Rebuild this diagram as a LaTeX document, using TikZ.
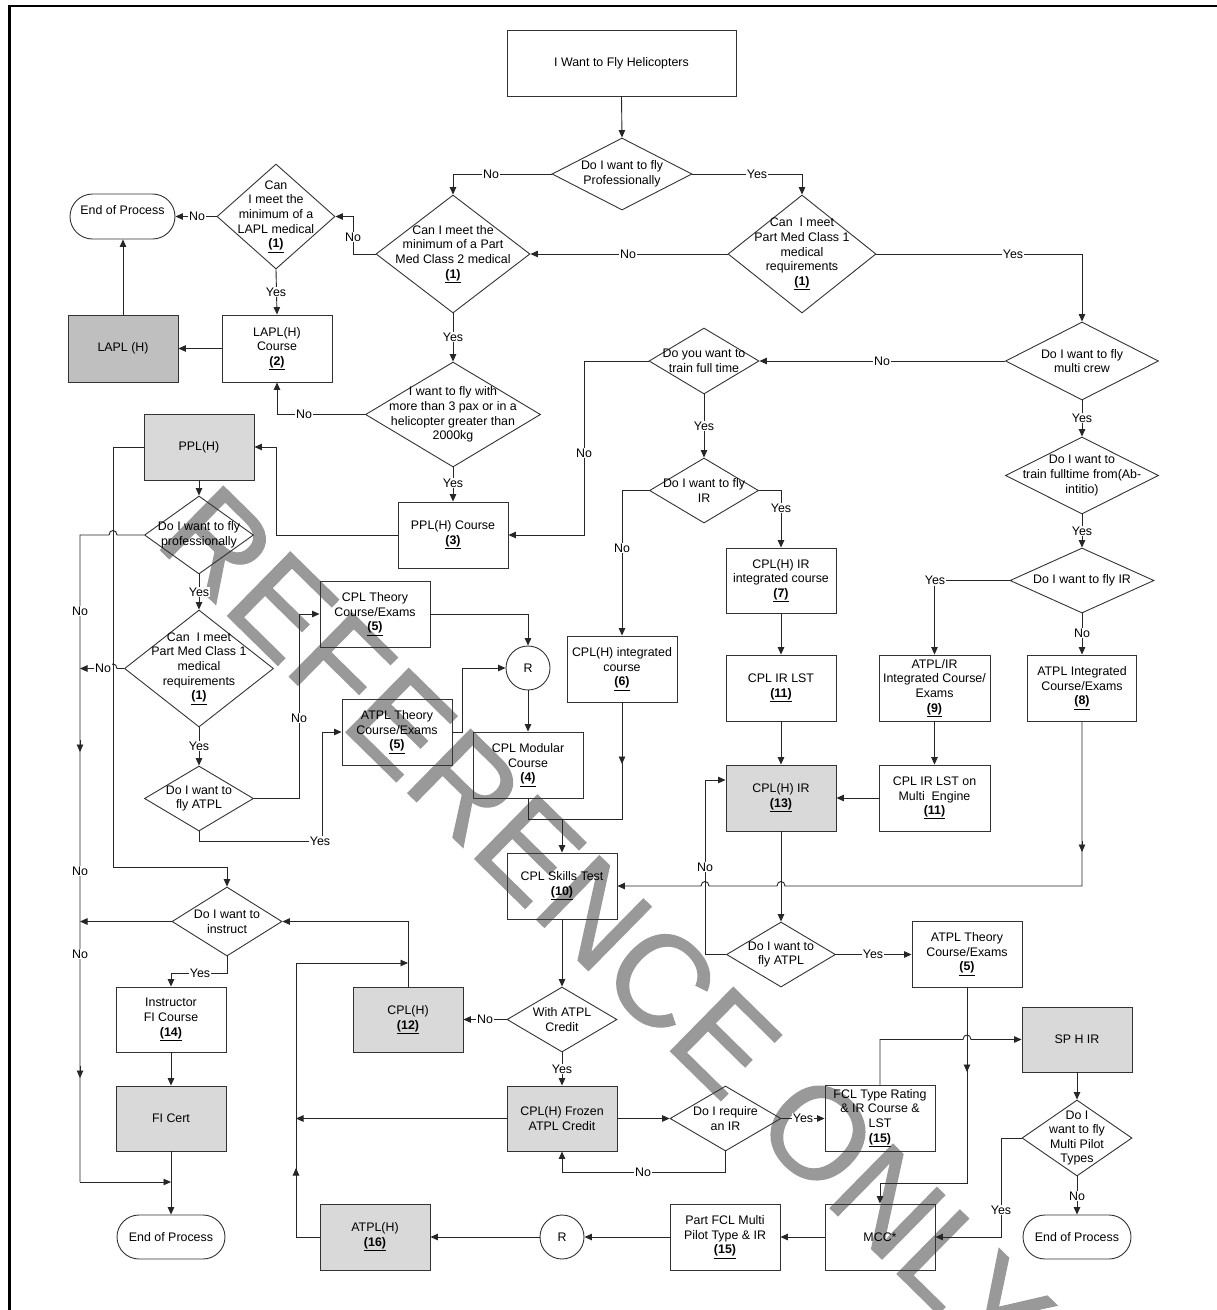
\documentclass[tikz,border=0pt]{standalone}
\usepackage{fontspec}
\setmainfont{Liberation Sans}
\newfontfamily\wmfont[FakeBold=1]{Liberation Sans}
\usetikzlibrary{arrows.meta,shapes.geometric,shapes.misc}
\newcommand{\refnum}[1]{\underline{\textbf{#1}}}
\begin{document}
\begin{tikzpicture}[x=1pt,y=-1pt,
 every node/.style={font=\fontsize{12.4}{14.6}\selectfont},
 ln/.style={draw=black!85, line width=0.9pt},
 arr/.style={ln, -{Triangle[length=7.5pt,width=6.5pt]}},
 box/.style={draw=black!80, line width=0.9pt, rectangle, minimum width=110pt, minimum height=66pt, inner sep=1pt, align=center},
 gbox/.style={box, fill=black!15},
 dbox/.style={box, fill=black!25},
 dia/.style={draw=black!80, line width=0.9pt, diamond, inner sep=0pt},
 txt/.style={align=center, inner sep=0pt},
 term/.style={draw=black!80, line width=0.9pt, rounded rectangle, minimum width=110pt, minimum height=44pt, inner sep=1pt},
 circ/.style={draw=black!80, line width=0.9pt, circle, minimum size=44pt, inner sep=0pt},
 lbl/.style={fill=white, inner sep=0.8pt},
 wm/.style={rotate=-44.5, text=black!40, inner sep=0pt, font=\wmfont\fontsize{130}{130}\selectfont}
]
\useasboundingbox (0,0) rectangle (1217,1310);
\fill[white] (0,0) rectangle (1217,1310);
% watermark
\node[wm] (wm) at (606,925) {REFERENCE ONLY};
% frame
\draw[line width=2.3pt] (1217,6) -- (9.5,6) -- (9.5,1310);

% ---------- nodes ----------
\node[box, minimum width=229pt] (start) at (621.5,63) {I Want to Fly Helicopters};
\node[dia, minimum width=140pt, minimum height=72pt] (dprof) at (622,174) {};
\node[txt] (tprof) at (dprof) {Do I want to fly\\Professionally};
\node[dia, minimum width=154pt, minimum height=118pt] (dmed2) at (453,254) {};
\node[txt] (tmed2) at (dmed2) {Can I meet the\\minimum of a Part\\Med Class 2 medical\\\refnum{(1)}};
\node[dia, minimum width=148pt, minimum height=118pt] (dmed1) at (802,254) {};
\node[txt] (tmed1) at (dmed1) {Can\ \ I meet\\Part Med Class 1\\medical\\requirements\\\refnum{(1)}};
\node[dia, minimum width=118pt, minimum height=105pt] (dlapl) at (276,216.5) {};
\node[txt] (tlapl) at (dlapl) {Can\\I meet the\\minimum of a\\LAPL medical\\\refnum{(1)}};
\node[term, minimum width=107pt, minimum height=45pt] (end1) at (122.5,216.5) {};
\node[txt] (tend1) at (122.5,210) {End of Process};
\node[box, minimum height=67pt] (laplc) at (277,348.5) {LAPL(H)\\Course\\\refnum{(2)}};
\node[dbox, minimum height=67pt] (lapl) at (123,348.5) {LAPL (H)};
\node[dia, minimum width=175pt, minimum height=105pt] (dpax) at (453,414.5) {};
\node[txt] (tpax) at (dpax) {I want to fly with\\more than 3 pax or in a\\helicopter greater than\\2000kg};
\node[box] (pplc) at (453,535) {PPL(H) Course\\\refnum{(3)}};
\node[dia, minimum width=153pt, minimum height=78pt] (dmulti) at (1082,361) {};
\node[txt] (tmulti) at (dmulti) {Do I want to fly\\multi crew};
\node[dia, minimum width=110pt, minimum height=66pt] (dfull) at (704,361) {};
\node[txt] (tfull) at (dfull) {Do you want to\\train full time};
\node[dia, minimum width=109pt, minimum height=65pt] (dir1) at (704,490.5) {};
\node[txt] (tir1) at (dir1) {Do I want to fly\\IR};
\node[box, minimum height=65pt] (cplirint) at (781,580.5) {CPL(H) IR\\integrated course\\\refnum{(7)}};
\node[box] (cplirlst) at (781,688) {CPL IR LST\\\refnum{(11)}};
\node[gbox] (cplir) at (781,798) {CPL(H) IR\\\refnum{(13)}};
\node[box] (cplint) at (622,669) {CPL(H) integrated\\course\\\refnum{(6)}};
\node[dia, minimum width=153pt, minimum height=77pt] (dabinit) at (1082,475.5) {};
\node[txt] (tabinit) at (dabinit) {Do I want to\\train fulltime from(Ab-\\intitio)};
\node[dia, minimum width=144pt, minimum height=65pt] (dir2) at (1082,580.5) {};
\node[txt] (tir2) at (dir2) {Do I want to fly IR};
\node[box, minimum width=111pt] (atplirint) at (934.5,688) {ATPL/IR\\Integrated Course/\\Exams\\\refnum{(9)}};
\node[box, minimum width=109pt] (atplint) at (1082,688) {ATPL Integrated\\Course/Exams\\\refnum{(8)}};
\node[box, minimum width=111pt] (cplirme) at (934.5,798) {CPL IR LST on\\Multi\ \ Engine\\\refnum{(11)}};
\node[gbox] (ppl) at (199,447) {PPL(H)};
\node[dia, minimum width=109pt, minimum height=78pt] (dprof2) at (199,535) {};
\node[txt] (tprof2) at (dprof2) {Do I want to fly\\professionally};
\node[dia, minimum width=149pt, minimum height=117pt] (dmed1b) at (199,668.5) {};
\node[txt] (tmed1b) at (dmed1b) {Can\ \ I meet\\Part Med Class 1\\medical\\requirements\\\refnum{(1)}};
\node[dia, minimum width=109pt, minimum height=65pt] (datpl1) at (199,798.5) {};
\node[txt] (tatpl1) at (datpl1) {Do I want to\\fly ATPL};
\node[box] (cplth) at (375,614) {CPL Theory\\Course/Exams\\\refnum{(5)}};
\node[box] (atplth) at (397,732) {ATPL Theory\\Course/Exams\\\refnum{(5)}};
\node[circ] (R1) at (528,668) {R};
\node[box] (cplmod) at (528,765) {CPL Modular\\Course\\\refnum{(4)}};
\node[box] (skills) at (562,886) {CPL Skills Test\\\refnum{(10)}};
\node[dia, minimum width=109pt, minimum height=65pt] (datpl2) at (781,954.5) {};
\node[txt] (tatpl2) at (datpl2) {Do I want to\\fly ATPL};
\node[box] (atplth2) at (967,954) {ATPL Theory\\Course/Exams\\\refnum{(5)}};
\node[dia, minimum width=110pt, minimum height=69pt] (dinstr) at (227,921.5) {};
\node[txt] (tinstr) at (dinstr) {Do I want to\\instruct};
\node[box, minimum height=65pt] (instr) at (171,1019.5) {Instructor\\FI Course\\\refnum{(14)}};
\node[gbox, minimum height=65pt] (ficert) at (171,1118.5) {FI Cert};
\node[term] (end2) at (171,1237) {End of Process};
\node[gbox, minimum height=65pt] (cplh) at (408,1019.5) {CPL(H)\\\refnum{(12)}};
\node[dia, minimum width=110pt, minimum height=65pt] (dcredit) at (562,1019.5) {};
\node[txt] (tcredit) at (dcredit) {With ATPL\\Credit};
\node[gbox, minimum height=65pt] (frozen) at (562,1118.5) {CPL(H) Frozen\\ATPL Credit};
\node[dia, minimum width=111pt, minimum height=65pt] (dreqir) at (725.5,1118.5) {};
\node[txt] (treqir) at (dreqir) {Do I require\\an IR};
\node[box] (fcl) at (880,1118) {FCL Type Rating\\\& IR Course \&\\LST\\\refnum{(15)}};
\node[gbox, minimum height=65pt] (sphir) at (1077,1039.5) {SP H IR};
\node[dia, minimum width=110pt, minimum height=76pt] (dmp) at (1077,1138) {};
\node[txt] (tmp) at (dmp) {Do I\\want to fly\\Multi Pilot\\Types};
\node[term] (end3) at (1077,1237) {End of Process};
\node[box] (mcc) at (880,1237) {MCC*};
\node[box] (partfcl) at (725,1237) {Part FCL Multi\\Pilot Type \& IR\\\refnum{(15)}};
\node[circ] (R2) at (562,1237) {R};
\node[gbox] (atplh) at (375,1237) {ATPL(H)\\\refnum{(16)}};

% ---------- connectors ----------
\draw[arr] (start.south) -- (dprof.north);
\draw[arr] (dprof.west) -| (dmed2.north);
\draw[arr] (dprof.east) -| (dmed1.north);
\draw[arr] (dmed1.west) -- (dmed2.east);
\draw[arr] (dmed1.east) -| (dmulti.north);
\draw[arr] (dmed2.west) -- (353,254) |- (dlapl.east);
\draw[arr] (dlapl.west) -- (end1.east |- dlapl.west);
\draw[arr] (dlapl.south) -- (laplc.north);
\draw[arr] (laplc.west) -- (lapl.east);
\draw[arr] (lapl.north) -- (lapl.north |- end1.south);
\draw[arr] (dmed2.south) -- (dpax.north);
\draw[arr] (dpax.west) -| (laplc.south);
\draw[arr] (dpax.south) -- (pplc.north);
\draw[arr] (dmulti.west) -- (dfull.east);
\draw[arr] (dfull.west) -- (584,361) |- (pplc.east);
\draw[arr] (dfull.south) -- (dir1.north);
\draw[arr] (dir1.west) -| (cplint.north);
\draw[arr] (dir1.east) -| (cplirint.north);
\draw[arr] (cplirint.south) -- (cplirlst.north);
\draw[arr] (cplirlst.south) -- (cplir.north);
\draw[arr] (dmulti.south) -- (dabinit.north);
\draw[arr] (dabinit.south) -- (dir2.north);
\draw[arr] (dir2.west) -| (atplirint.north);
\draw[arr] (dir2.south) -- (atplint.north);
\draw[arr] (atplirint.south) -- (cplirme.north);
\draw[arr] (cplirme.west) -- (cplir.east);
\draw[arr] (atplint.south) -- (1082,886) -- (785,886) .. controls (785,880) and (777,880) .. (777,886) -- (709,886) .. controls (709,880) and (701,880) .. (701,886) -- (skills.east);
\draw[arr] (1082,841) -- (1082,852);
\draw[arr] (pplc.west) -- (276,535) |- (ppl.east);
\draw[arr] (ppl.south) -- (dprof2.north);
\coordinate (j1) at (171,1182);
\draw[ln] (dprof2.west) -- (117,535) .. controls (117,529) and (109,529) .. (109,535) -- (80,535) -- (80,1182);
\draw[arr] (80,1182) -- (j1);
\draw[arr] (80,740) -- (80,752);
\draw[arr] (80,1066) -- (80,1078);
\draw[arr] (ppl.west) -- (113,447) -- (113,867) -| (dinstr.north);
\draw[arr] (dprof2.south) -- (dmed1b.north);
\draw[arr] (dmed1b.west) -- (117,668.5) .. controls (117,662.5) and (109,662.5) .. (109,668.5) -- (80,668.5);
\draw[arr] (dmed1b.south) -- (datpl1.north);
\draw[arr] (datpl1.east) -- (299,798.5) |- (cplth.west);
\draw[arr] (datpl1.south) -- (199,841) -- (322,841) |- (atplth.west);
\draw[arr] (cplth.east) -| (R1.north);
\draw[arr] (atplth.east) -- (462,732) |- (R1.west);
\draw[arr] (R1.south) -- (cplmod.north);
\draw[ln] (cplint.south) -- (622,819) -- (528,819) -- (cplmod.south);
\draw[arr] (622,752) -- (622,764);
\draw[arr] (562,819) -- (skills.north);
\draw[arr] (cplir.south) -- (datpl2.north);
\draw[arr] (datpl2.west) -- (705,954.5) -- (705,780) -- (cplir.west |- 0,780);
\draw[arr] (datpl2.east) -- (atplth2.west |- datpl2.east);
\draw[arr] (atplth2.south) -- (967,1183) -| (mcc.north);
\draw[arr] (967,1060) -- (967,1072);
\draw[arr] (fcl.north) -- (880,1039.5) -- (963,1039.5) .. controls (963,1033.5) and (971,1033.5) .. (971,1039.5) -- (sphir.west);
\draw[arr] (sphir.south) -- (dmp.north);
\draw[arr] (dmp.south) -- (end3.north);
\draw[arr] (dmp.west) -- (1001,1138) |- (mcc.east);
\draw[arr] (mcc.west) -- (partfcl.east);
\draw[arr] (partfcl.west) -- (R2.east);
\draw[arr] (R2.west) -- (atplh.east);
\coordinate (j2) at (408,963);
\draw[arr] (atplh.west) -- (296,1237) -- (296,963) -- (j2);
\draw[arr] (296,1180) -- (296,1168);
\draw[arr] (frozen.west) -- (296,1118.5);
\draw[arr] (cplh.north) -- (408,921.5) -- (dinstr.east);
\draw[arr] (dinstr.west) -- (80,921.5);
\draw[arr] (dinstr.south) -- (227,973) -| (instr.north);
\draw[arr] (instr.south) -- (ficert.north);
\draw[arr] (ficert.south) -- (end2.north);
\draw[arr] (skills.south) -- (dcredit.north);
\draw[arr] (dcredit.west) -- (cplh.east);
\draw[arr] (dcredit.south) -- (frozen.north);
\draw[arr] (frozen.east) -- (dreqir.west);
\draw[arr] (dreqir.east) -- (fcl.west |- dreqir.east);
\draw[arr] (dreqir.south) -- (725.5,1172) -| (frozen.south);

% ---------- labels ----------
\node[lbl] (l1) at (491,174) {No};
\node[lbl] (l2) at (757,174) {Yes};
\node[lbl] (l3) at (628,254) {No};
\node[lbl] (l4) at (1013,254) {Yes};
\node[lbl] (l5) at (353,237) {No};
\node[lbl] (l6) at (197,216.5) {No};
\node[lbl] (l7) at (276,292) {Yes};
\node[lbl] (l8) at (453,337) {Yes};
\node[lbl] (l9) at (304,414.5) {No};
\node[lbl] (l10) at (453,483) {Yes};
\node[lbl] (l11) at (882,361) {No};
\node[lbl] (l12) at (584,453) {No};
\node[lbl] (l13) at (704,426) {Yes};
\node[lbl] (l14) at (622,548) {No};
\node[lbl] (l15) at (781,508) {Yes};
\node[lbl] (l16) at (1082,418) {Yes};
\node[lbl] (l17) at (1082,531) {Yes};
\node[lbl] (l18) at (935,580.5) {Yes};
\node[lbl] (l19) at (1082,633) {No};
\node[lbl] (l20) at (80,611) {No};
\node[lbl] (l21) at (80,871) {No};
\node[lbl] (l22) at (80,954) {No};
\node[lbl] (l23) at (199,592) {Yes};
\node[lbl] (l24) at (103,668.5) {No};
\node[lbl] (l25) at (199,746) {Yes};
\node[lbl] (l26) at (299,718) {No};
\node[lbl] (l27) at (320,841) {Yes};
\node[lbl] (l28) at (705,867) {No};
\node[lbl] (l29) at (873,954.5) {Yes};
\node[lbl] (l30) at (1077,1196) {No};
\node[lbl] (l31) at (1001,1210) {Yes};
\node[lbl] (l32) at (485,1019.5) {No};
\node[lbl] (l33) at (562,1069) {Yes};
\node[lbl] (l34) at (803,1118.5) {Yes};
\node[lbl] (l35) at (643,1172) {No};
\node[lbl] (l36) at (200,973) {Yes};
\end{tikzpicture}
\end{document}
